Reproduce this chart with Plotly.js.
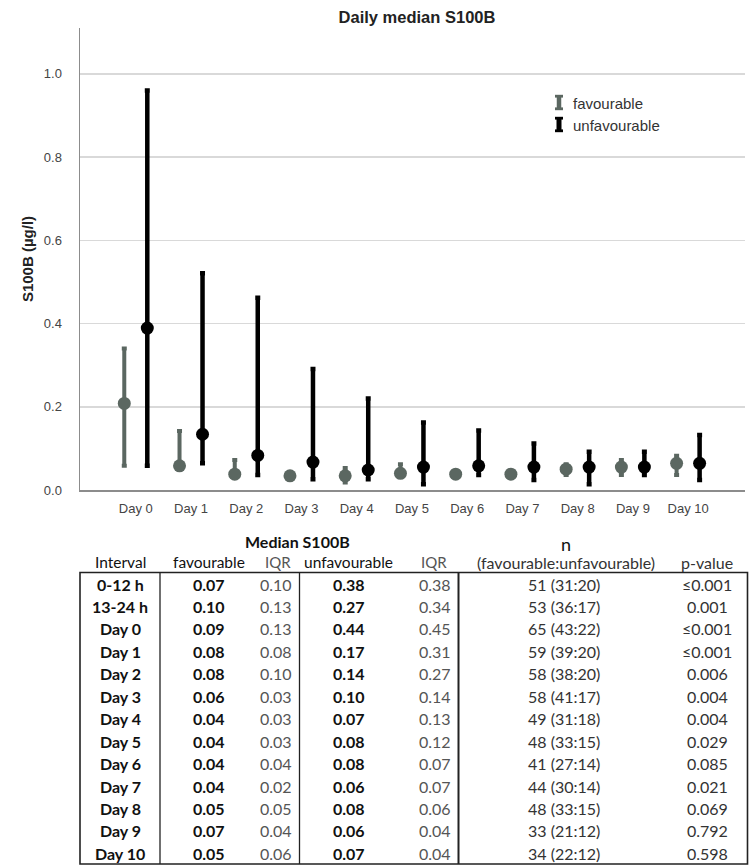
<!DOCTYPE html>
<html>
<head>
<meta charset="utf-8">
<script src="https://cdn.plot.ly/plotly-3.0.1.min.js"></script>
<style>html,body{margin:0;padding:0;background:#fff;}#chart{width:749px;height:866px;}</style>
</head>
<body>
<div id="chart"></div>
<script>
// ---------- chart data ----------
const days = ['Day 0','Day 1','Day 2','Day 3','Day 4','Day 5','Day 6','Day 7','Day 8','Day 9','Day 10'];
const favMedian = [0.208, 0.058, 0.038, 0.034, 0.034, 0.040, 0.038, 0.038, 0.050, 0.055, 0.064];
const favUpper  = [0.340, 0.142, 0.072, 0.040, 0.053, 0.062, 0.042, 0.042, 0.062, 0.072, 0.082];
const favLower  = [0.058, 0.052, 0.030, 0.030, 0.018, 0.032, 0.034, 0.034, 0.036, 0.036, 0.036];
const unfMedian = [0.389, 0.134, 0.083, 0.067, 0.048, 0.055, 0.058, 0.055, 0.055, 0.055, 0.064];
const unfUpper  = [0.960, 0.521, 0.462, 0.291, 0.220, 0.162, 0.143, 0.112, 0.092, 0.092, 0.132];
const unfLower  = [0.058, 0.064, 0.036, 0.026, 0.026, 0.014, 0.036, 0.024, 0.014, 0.036, 0.024];
const yTicks = [0, 0.2, 0.4, 0.6, 0.8, 1.0];

// ---------- table data ----------
const intervals = ['0-12 h','13-24 h','Day 0','Day 1','Day 2','Day 3','Day 4','Day 5','Day 6','Day 7','Day 8','Day 9','Day 10'];
const tFavMed = ['0.07','0.10','0.09','0.08','0.08','0.06','0.04','0.04','0.04','0.04','0.05','0.07','0.05'];
const tFavIQR = ['0.10','0.13','0.13','0.08','0.10','0.03','0.03','0.03','0.04','0.02','0.05','0.04','0.06'];
const tUnfMed = ['0.38','0.27','0.44','0.17','0.14','0.10','0.07','0.08','0.08','0.06','0.08','0.06','0.07'];
const tUnfIQR = ['0.38','0.34','0.45','0.31','0.27','0.14','0.13','0.12','0.07','0.07','0.06','0.04','0.04'];
const nTotal = [51,53,65,59,58,58,49,48,41,44,48,33,34];
const nFav   = [31,36,43,39,38,41,31,33,27,30,33,21,22];
const nUnf   = [20,17,22,20,20,17,18,15,14,14,15,12,12];
const pValues = ['≤0.001','0.001','≤0.001','≤0.001','0.006','0.004','0.004','0.029','0.085','0.021','0.069','0.792','0.598'];

// ---------- helpers (pixel -> paper) ----------
const W = 749, H = 866;
const px = x => x / W;
const py = y => (H - y) / H;

const FAV = '#5b6761', UNF = '#000000';
const sub = (a, b) => a.map((v, i) => v - b[i]);

const traces = [
  {
    type: 'scatter', mode: 'markers', name: 'favourable', x: days, y: favMedian,
    marker: {color: FAV, size: 13},
    error_y: {type: 'data', symmetric: false, array: sub(favUpper, favMedian), arrayminus: sub(favMedian, favLower),
              color: FAV, thickness: 4, width: 2.5},
    offsetgroup: 'fav', hoverinfo: 'x+y'
  },
  {
    type: 'scatter', mode: 'markers', name: 'unfavourable', x: days, y: unfMedian,
    marker: {color: UNF, size: 13},
    error_y: {type: 'data', symmetric: false, array: sub(unfUpper, unfMedian), arrayminus: sub(unfMedian, unfLower),
              color: UNF, thickness: 4.5, width: 2.5},
    offsetgroup: 'unf', hoverinfo: 'x+y'
  }
];

const shapes = [];
const annotations = [];

// legend glyphs (I-beam) and labels
function legendGlyph(x, y0, y1, color, lw) {
  shapes.push({type:'line', xref:'paper', yref:'paper', x0:px(x), x1:px(x), y0:py(y0), y1:py(y1), line:{color, width:lw}});
  shapes.push({type:'line', xref:'paper', yref:'paper', x0:px(x-4), x1:px(x+4), y0:py(y0+1.2), y1:py(y0+1.2), line:{color, width:2.8}});
  shapes.push({type:'line', xref:'paper', yref:'paper', x0:px(x-4), x1:px(x+4), y0:py(y1-1.2), y1:py(y1-1.2), line:{color, width:2.8}});
}
legendGlyph(559, 95, 110, FAV, 4.5);
legendGlyph(559, 117, 132, UNF, 5);
annotations.push({xref:'paper', yref:'paper', x:px(571), y:py(103), xanchor:'left', yanchor:'middle', showarrow:false,
  text:'favourable', font:{family:'Liberation Sans, Arial', size:15, color:'#333'}});
annotations.push({xref:'paper', yref:'paper', x:px(571), y:py(126), xanchor:'left', yanchor:'middle', showarrow:false,
  text:'unfavourable', font:{family:'Liberation Sans, Arial', size:15, color:'#333'}});

// ---------- table ----------
const TF = 'Lato, Open Sans, sans-serif';
const FS = 16;
function cell(x, y, text, opts) {
  opts = opts || {};
  annotations.push({xref:'paper', yref:'paper', x:px(x), y:py(y), xanchor: opts.anchor || 'center', yanchor:'middle',
    showarrow:false, text:text, font:{family:TF, size: opts.size || FS, color: opts.color || '#111', weight: opts.bold ? 700 : (opts.weight || 400)}});
}
// headers
cell(297, 541, 'Median S100B', {bold:true});
cell(566, 544, 'n', {size:18});
cell(120, 562, 'Interval', {color:'#111', size:15.5});
cell(209, 562, 'favourable', {color:'#111', size:15.5});
cell(278, 562, 'IQR', {color:'#555', size:15});
cell(348, 562, 'unfavourable', {color:'#111', size:15.5});
cell(434, 562, 'IQR', {color:'#555', size:15});
cell(566, 562, '(favourable:unfavourable)', {color:'#333'});
cell(707, 562, 'p-value', {color:'#333'});

const row0 = 584, rowH = 22.45;
intervals.forEach((iv, i) => {
  const y = row0 + rowH * i;
  cell(120, y, iv, {bold:true});
  cell(209, y, tFavMed[i], {bold:true});
  cell(294, y, tFavIQR[i], {color:'#555', anchor:'right'});
  cell(349, y, tUnfMed[i], {bold:true});
  cell(435, y, tUnfIQR[i], {color:'#555'});
  cell(564, y, nTotal[i] + ' (' + nFav[i] + ':' + nUnf[i] + ')', {color:'#333'});
  cell(707, y, pValues[i], {color:'#333'});
});

// table borders
const tTop = 572.5, tBot = 864, tLeft = 80, tRight = 747.5;
shapes.push({type:'rect', xref:'paper', yref:'paper', x0:px(tLeft), x1:px(tRight), y0:py(tTop), y1:py(tBot),
  line:{color:'#222', width:1.6}});
[[160, 1.3], [299.5, 1.3], [458.5, 2]].forEach(([x, w]) => {
  shapes.push({type:'line', xref:'paper', yref:'paper', x0:px(x), x1:px(x), y0:py(tTop), y1:py(tBot), line:{color:'#222', width:w}});
});

const layout = {
  width: W, height: H, autosize: false,
  margin: {l:0, r:0, t:0, b:0},
  paper_bgcolor: '#fff', plot_bgcolor: '#fff',
  showlegend: false,
  scattermode: 'group', scattergap: 0.167,
  title: {text: 'Daily median S100B', x: px(417), xanchor: 'center', y: py(17), yanchor: 'middle', xref:'container', yref:'container',
          font: {family: 'Liberation Sans, Arial', size: 16.5, color: '#222', weight: 700}},
  xaxis: {
    type: 'category', categoryarray: days, range: [-1.01, 11.03], domain: [px(80), px(745)],
    showline: true, linecolor: '#8c8c8c', linewidth: 1.5, showgrid: false, zeroline: false, ticks: '',
    tickfont: {family: 'Liberation Sans, Arial', size: 13, color: '#444'}, ticklabelstandoff: 6, fixedrange: true
  },
  yaxis: {
    range: [0, 1.11], domain: [py(490), py(28)],
    showline: true, linecolor: '#8c8c8c', linewidth: 1.5, zeroline: false,
    showgrid: true, gridcolor: '#d9d9d9', gridwidth: 1.5,
    tickmode: 'array', tickvals: yTicks, ticktext: yTicks.map(v => v.toFixed(1)), ticks: '',
    tickfont: {family: 'Liberation Sans, Arial', size: 13, color: '#444'}, ticklabelstandoff: 14,
    title: {text: 'S100B (µg/l)', standoff: 6, font: {family: 'Liberation Sans, Arial', size: 15, color: '#222', weight: 700}},
    fixedrange: true
  },
  shapes: shapes,
  annotations: annotations
};

Plotly.newPlot('chart', traces, layout, {displayModeBar: false, staticPlot: true});
</script>
</body>
</html>
